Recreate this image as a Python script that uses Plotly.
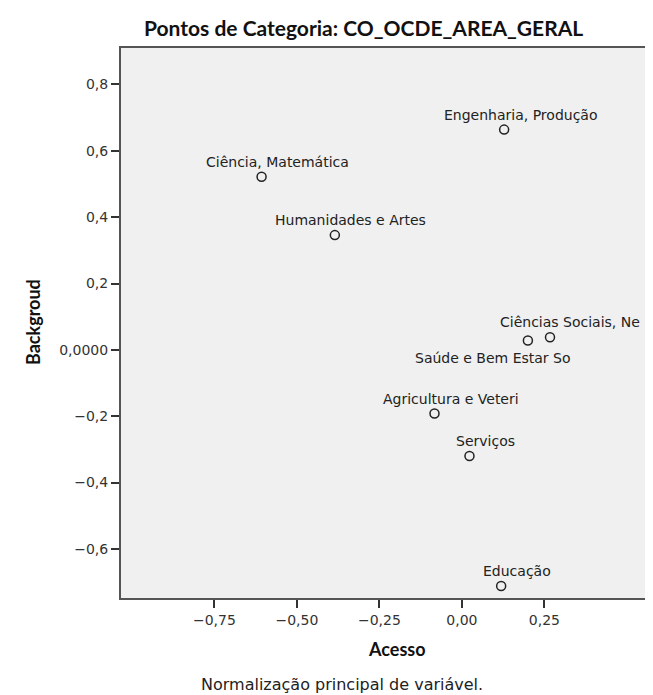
import plotly.graph_objects as go

# ---- data ----
categories = ["Engenharia, Produção", "Ciência, Matemática", "Humanidades e Artes",
              "Ciências Sociais, Ne", "Saúde e Bem Estar So", "Agricultura e Veteri",
              "Serviços", "Educação"]
acesso = [0.128, -0.607, -0.385, 0.267, 0.200, -0.083, 0.023, 0.119]
background = [0.664, 0.522, 0.346, 0.038, 0.028, -0.192, -0.320, -0.712]

x_tickvals = [-0.75, -0.50, -0.25, 0.00, 0.25]
x_ticktext = ["−0,75", "−0,50", "−0,25", "0,00", "0,25"]
y_tickvals = [0.8, 0.6, 0.4, 0.2, 0.0, -0.2, -0.4, -0.6]
y_ticktext = ["0,8", "0,6", "0,4", "0,2", "0,0000", "−0,2", "−0,4", "−0,6"]

# ---- style ----
W, H = 653, 695
L, R, T, B = 113, 0, 40, 105
PW, PH = W - L - R, H - T - B
label_shift = {  # pixel offsets of labels relative to their point
    "Ciências Sociais, Ne": (20, 15),
    "Saúde e Bem Estar So": (-35, -17),
}
default_shift = (16, 15)
LAB_FONT = dict(family="DejaVu Sans", size=14, color="#222222")
TICK_FONT = dict(family="DejaVu Sans", size=14, color="#333333")
BOLD = "Lato"


def px_x(px):
    return (px - L) / PW


def px_y(py):
    return (H - B - py) / PH


fig = go.Figure()
fig.add_trace(go.Scatter(
    x=acesso, y=background, mode="markers",
    marker=dict(symbol="circle-open", size=9, color="#222222", line=dict(width=1.5)),
    hoverinfo="text", text=categories, showlegend=False,
))

annotations = []
for c, xv, yv in zip(categories, acesso, background):
    dx, dy = label_shift.get(c, default_shift)
    annotations.append(dict(x=xv, y=yv, xref="x", yref="y", text=c, showarrow=False,
                            xanchor="center", yanchor="middle",
                            xshift=dx, yshift=dy, font=LAB_FONT))


def text_at(txt, cx, cy, font, angle=0):
    return dict(text=txt, x=px_x(cx), y=px_y(cy), xref="paper", yref="paper",
                xanchor="center", yanchor="middle", showarrow=False,
                textangle=angle, font=font, borderpad=0)


annotations += [
    text_at("<b>Pontos de Categoria: CO_OCDE_AREA_GERAL</b>", 355, 20,
            dict(family=BOLD, size=21, color="#111111")),
    text_at("<b>Acesso</b>", 389, 641, dict(family=BOLD, size=18, color="#111111")),
    text_at("<b>Backgroud</b>", 25, 314, dict(family=BOLD, size=18, color="#111111"), -90),
    text_at("Normalização principal de variável.", 334, 676,
            dict(family="DejaVu Sans", size=16, color="#222222")),
]

fig.update_layout(
    width=W, height=H,
    margin=dict(l=L, r=R, t=T, b=B, pad=0),
    paper_bgcolor="white", plot_bgcolor="#f0f0f0",
    annotations=annotations,
    xaxis=dict(range=[-1.033, -1.033 + PW / 330.0], tickvals=x_tickvals, ticktext=x_ticktext,
               showgrid=False, zeroline=False, showline=True, linecolor="#555555",
               linewidth=2, mirror=True, ticks="outside", ticklen=8, tickwidth=2,
               tickcolor="#333333", tickfont=TICK_FONT),
    yaxis=dict(range=[-0.748, 0.910], tickvals=y_tickvals, ticktext=y_ticktext,
               showgrid=False, zeroline=False, showline=True, linecolor="#555555",
               linewidth=2, ticks="outside", ticklen=8, tickwidth=2,
               tickcolor="#333333", tickfont=TICK_FONT),
    hovermode="closest",
)

fig.write_html("out.html")
